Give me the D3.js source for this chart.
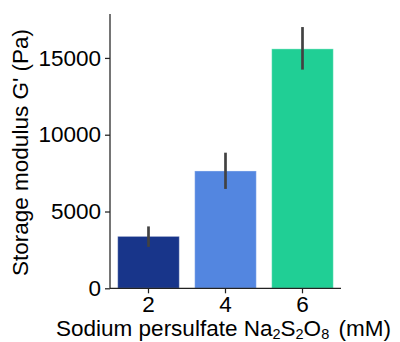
<!DOCTYPE html>
<html>
<head>
<meta charset="utf-8">
<script src="https://cdn.jsdelivr.net/npm/d3@7"></script>
<style>
  html, body { margin: 0; padding: 0; background: #fff; }
  svg { display: block; font-family: "Liberation Sans", Arial, sans-serif; }
</style>
</head>
<body>
<svg id="chart" width="400" height="342"></svg>
<script>
// Storage modulus vs. persulfate concentration
const categories = ["2", "4", "6"];
const means = [3380, 7640, 15590];
const errLow = [2700, 6470, 14240];
const errHigh = [4030, 8830, 17010];
const barColors = ["#18358a", "#5386e0", "#20cf95"];
const yTicks = [0, 5000, 10000, 15000];

const svg = d3.select("#chart");
const plotLeft = 110, plotRight = 341, plotTop = 14, plotBottom = 288.3;
const fontSize = 22.5;

const x = d3.scaleBand()
  .domain(categories)
  .range([plotLeft, plotRight])
  .paddingInner(0.2)
  .paddingOuter(0.1);

const y = d3.scaleLinear()
  .domain([0, 17860])
  .range([plotBottom, plotTop]);

const data = categories.map((c, i) => ({
  c, m: means[i], lo: errLow[i], hi: errHigh[i], color: barColors[i]
}));

// bars
svg.append("g").selectAll("rect")
  .data(data)
  .join("rect")
  .attr("x", d => x(d.c))
  .attr("y", d => y(d.m))
  .attr("width", x.bandwidth())
  .attr("height", d => y(0) - y(d.m))
  .attr("fill", d => d.color)
  .attr("stroke", "rgba(255,255,255,0.35)")
  .attr("stroke-width", 1);

// error bars
svg.append("g").selectAll("line")
  .data(data)
  .join("line")
  .attr("x1", d => x(d.c) + x.bandwidth() / 2)
  .attr("x2", d => x(d.c) + x.bandwidth() / 2)
  .attr("y1", d => y(d.lo))
  .attr("y2", d => y(d.hi))
  .attr("stroke", "#424242")
  .attr("stroke-width", 2.7);

// y axis
const yAxis = svg.append("g")
  .attr("transform", `translate(${plotLeft},0)`)
  .call(d3.axisLeft(y).tickValues(yTicks).tickSize(5).tickPadding(4).tickFormat(d3.format("d")));
yAxis.select(".domain").attr("d", `M0,${plotTop}V${plotBottom}`).attr("stroke", "#222").attr("stroke-width", 1.25);
yAxis.selectAll(".tick line").attr("stroke", "#222").attr("stroke-width", 1.25);
yAxis.selectAll(".tick text").attr("font-size", fontSize).attr("fill", "#000")
  .attr("font-family", "Liberation Sans, Arial, sans-serif");

// x axis
const xAxis = svg.append("g")
  .attr("transform", `translate(0,${plotBottom})`)
  .call(d3.axisBottom(x).tickSize(5).tickPadding(3));
xAxis.select(".domain").attr("d", `M${plotLeft},0H${plotRight}`).attr("stroke", "#222").attr("stroke-width", 1.25);
xAxis.selectAll(".tick line").attr("stroke", "#222").attr("stroke-width", 1.25);
xAxis.selectAll(".tick text").attr("font-size", fontSize).attr("fill", "#000")
  .attr("font-family", "Liberation Sans, Arial, sans-serif");

// axis titles
svg.append("text")
  .attr("transform", `translate(28,152.5) rotate(-90)`)
  .attr("text-anchor", "middle")
  .attr("font-size", fontSize)
  .attr("fill", "#000")
  .text("Storage modulus G' (Pa)");

const xt = svg.append("text")
  .attr("x", 223.5)
  .attr("y", 336)
  .attr("text-anchor", "middle")
  .attr("font-size", fontSize)
  .attr("fill", "#000");
xt.append("tspan").text("Sodium persulfate Na");
xt.append("tspan").attr("font-size", 14.5).attr("dy", 2.5).text("2");
xt.append("tspan").attr("dy", -2.5).text("S");
xt.append("tspan").attr("font-size", 14.5).attr("dy", 2.5).text("2");
xt.append("tspan").attr("dy", -2.5).text("O");
xt.append("tspan").attr("font-size", 14.5).attr("dy", 2.5).text("8");
xt.append("tspan").attr("dy", -2.5).attr("dx", 3).text(" (mM)");
</script>
</body>
</html>
